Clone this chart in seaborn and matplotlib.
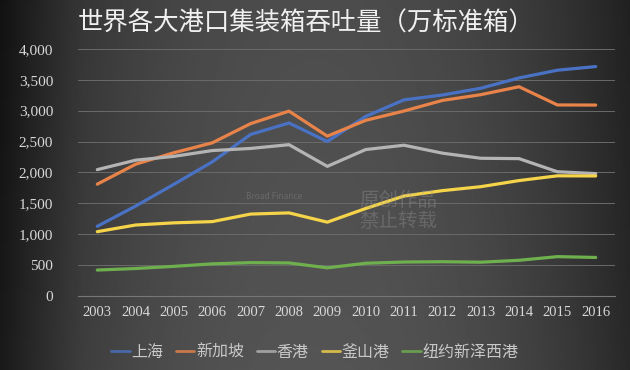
import numpy as np
import pandas as pd
import matplotlib
matplotlib.use('Agg')
import matplotlib.pyplot as plt
from matplotlib.ticker import FuncFormatter, FixedLocator
import seaborn as sns

# Data (万标准箱)
years = list(range(2003, 2017))
shanghai = [1128, 1455, 1808, 2171, 2615, 2800, 2500, 2907, 3174, 3253, 3362, 3529, 3654, 3713]
singapore = [1810, 2133, 2319, 2479, 2790, 2992, 2587, 2843, 2994, 3165, 3258, 3387, 3092, 3090]
hongkong = [2045, 2198, 2260, 2354, 2388, 2449, 2098, 2370, 2440, 2312, 2229, 2223, 2011, 1981]
busan = [1041, 1149, 1184, 1204, 1326, 1345, 1195, 1416, 1618, 1705, 1769, 1868, 1945, 1943]
nynj = [420, 445, 480, 520, 540, 535, 456, 530, 550, 555, 547, 578, 637, 624]
ports = ['上海', '新加坡', '香港', '釜山港', '纽约新泽西港']
colors = ['#4a72c4', '#e8834a', '#b4b4b4', '#f5d44a', '#6fb04e']

df = pd.DataFrame({'year': years, '上海': shanghai, '新加坡': singapore, '香港': hongkong,
                   '釜山港': busan, '纽约新泽西港': nynj})
long_df = df.melt(id_vars='year', var_name='port', value_name='teu')

sns.set_style('dark')
plt.rcParams['font.family'] = ['Noto Sans CJK SC', 'DejaVu Sans']
text_c = '#d8d8d8'

fig = plt.figure(figsize=(6.3, 3.7), dpi=100)

# dark gradient background
bg = fig.add_axes([0, 0, 1, 1], zorder=-10)
xx = np.linspace(-1, 1, 300)
yy = np.linspace(0, 1, 200)
X, Y = np.meshgrid(xx, yy)
shade = 0.30 - 0.17 * np.abs(X) ** 2.2 + 0.03 * Y
shade[:, :40] -= np.linspace(0.06, 0, 40)
bg.imshow(shade, cmap='gray', vmin=0, vmax=1, aspect='auto', extent=[0, 1, 0, 1])
bg.axis('off')

ax = fig.add_axes([0.124, 0.2, 0.852, 0.668])
ax.set_facecolor('none')
sns.lineplot(data=long_df, x='year', y='teu', hue='port', hue_order=ports,
             palette=colors, linewidth=2.3, ax=ax, legend=True)

ax.set_xlim(2002.5, 2016.5)
ax.set_ylim(0, 4000)
ax.set_xticks(years)
ax.set_yticks(range(0, 4001, 500))
ax.yaxis.set_major_formatter(FuncFormatter(lambda v, p: f'{int(v):,}'))
ax.xaxis.set_minor_locator(FixedLocator(np.arange(2002.5, 2017, 1)))
ax.tick_params(axis='x', which='major', length=0, pad=7, colors=text_c, labelsize=10.5)
ax.tick_params(axis='x', which='minor', length=5, color='#777777', direction='in')
ax.tick_params(axis='y', length=0, pad=18, colors=text_c, labelsize=11)
ax.grid(axis='y', color='#6a6a6a', linewidth=0.7)
ax.grid(axis='x', visible=False)
for s in ['top', 'right', 'left']:
    ax.spines[s].set_visible(False)
ax.spines['bottom'].set_color('#777777')
ax.set_xlabel('')
ax.set_ylabel('')

leg = ax.legend(loc='center', bbox_to_anchor=(0.441, -0.227), ncol=5, frameon=False,
                handlelength=1.15, handletextpad=0.1, columnspacing=0.8, fontsize=11.5)
for t in leg.get_texts():
    t.set_color('#c8c8c8')
for h in leg.get_lines():
    h.set_linewidth(2)
    h.set_alpha(0.8)

fig.text(0.124, 0.935, '世界各大港口集装箱吞吐量（万标准箱）', color='#f0f0f0',
         fontsize=18.3, va='center', ha='left')

# watermark
fig.text(0.57, 0.43, '原创作品\n禁止转载', color='#9a9a9a', alpha=0.35, fontsize=14,
         va='center', ha='left', linespacing=1.0)
fig.text(0.39, 0.47, 'Broad Finance', color='#9a9a9a', alpha=0.35, fontsize=6,
         va='center', ha='left')

fig.canvas.draw()
for lab in ax.get_xticklabels() + ax.get_yticklabels():
    lab.set_fontfamily(['Liberation Serif', 'DejaVu Serif'])

fig.savefig('out.png', dpi=100)
